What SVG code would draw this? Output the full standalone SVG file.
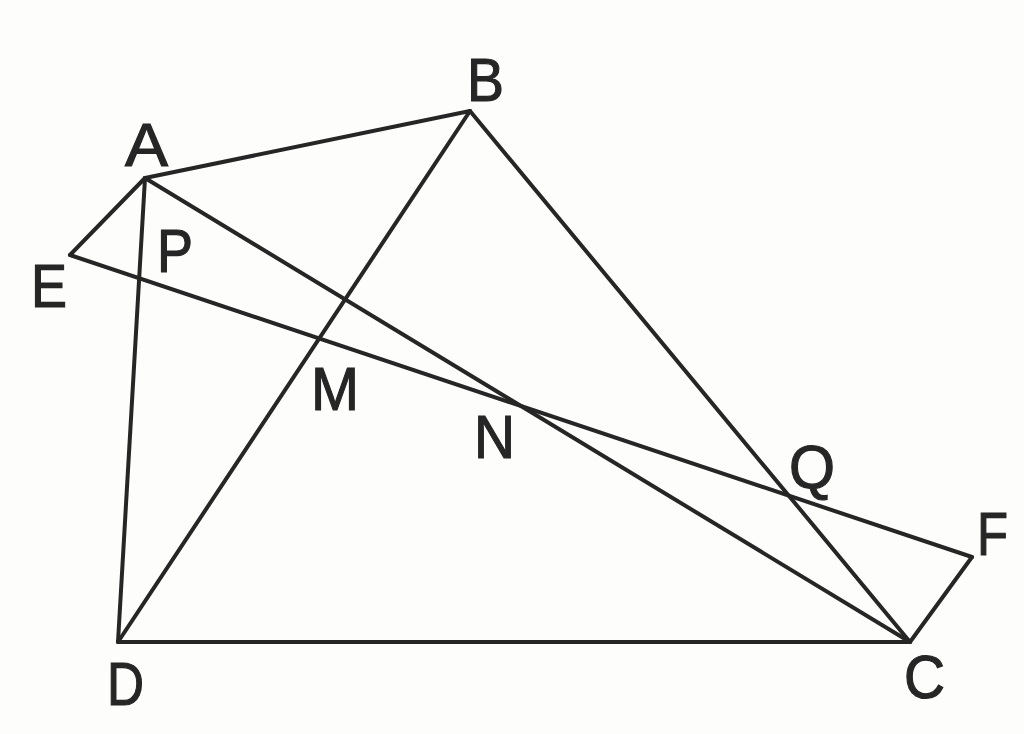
<svg xmlns="http://www.w3.org/2000/svg" width="1024" height="734" viewBox="0 0 1024 734">
<style>
.ln{stroke:#262626;stroke-width:4;stroke-linecap:round;fill:none}
.lb{font-family:"Liberation Sans",Arial,sans-serif;font-size:62px;fill:#262626;stroke:#262626;stroke-width:1.2}
</style>
<rect width="1024" height="734" fill="#fdfdfb"/>
<g id="connectors">
<line class="ln" x1="145" y1="178" x2="470" y2="111"/>
<line class="ln" x1="470" y1="111" x2="118" y2="642"/>
<line class="ln" x1="470" y1="111" x2="910" y2="642"/>
<line class="ln" x1="145" y1="178" x2="910" y2="642"/>
<line class="ln" x1="145" y1="178" x2="118" y2="642"/>
<line class="ln" x1="118" y1="642" x2="910" y2="642"/>
<line class="ln" x1="145" y1="178" x2="70" y2="255"/>
<line class="ln" x1="70" y1="255" x2="972" y2="557"/>
<line class="ln" x1="972" y1="557" x2="910" y2="642"/>
</g>
<g id="A"><text class="lb" x="125" y="166" textLength="43" lengthAdjust="spacingAndGlyphs">A</text></g>
<g id="B"><text class="lb" x="467" y="101" textLength="37" lengthAdjust="spacingAndGlyphs">B</text></g>
<g id="C"><text class="lb" x="904" y="698" textLength="41" lengthAdjust="spacingAndGlyphs">C</text></g>
<g id="D"><text class="lb" x="107" y="705" textLength="37" lengthAdjust="spacingAndGlyphs">D</text></g>
<g id="E"><text class="lb" x="31" y="307" textLength="36" lengthAdjust="spacingAndGlyphs">E</text></g>
<g id="F"><text class="lb" x="977" y="555" textLength="31" lengthAdjust="spacingAndGlyphs">F</text></g>
<g id="P"><text class="lb" x="157" y="272" textLength="36" lengthAdjust="spacingAndGlyphs">P</text></g>
<g id="M"><text class="lb" x="311" y="410" textLength="48" lengthAdjust="spacingAndGlyphs">M</text></g>
<g id="N"><text class="lb" x="474" y="458" textLength="41" lengthAdjust="spacingAndGlyphs">N</text></g>
<g id="Q"><text class="lb" x="789" y="488" textLength="46" lengthAdjust="spacingAndGlyphs">Q</text></g>
</svg>
